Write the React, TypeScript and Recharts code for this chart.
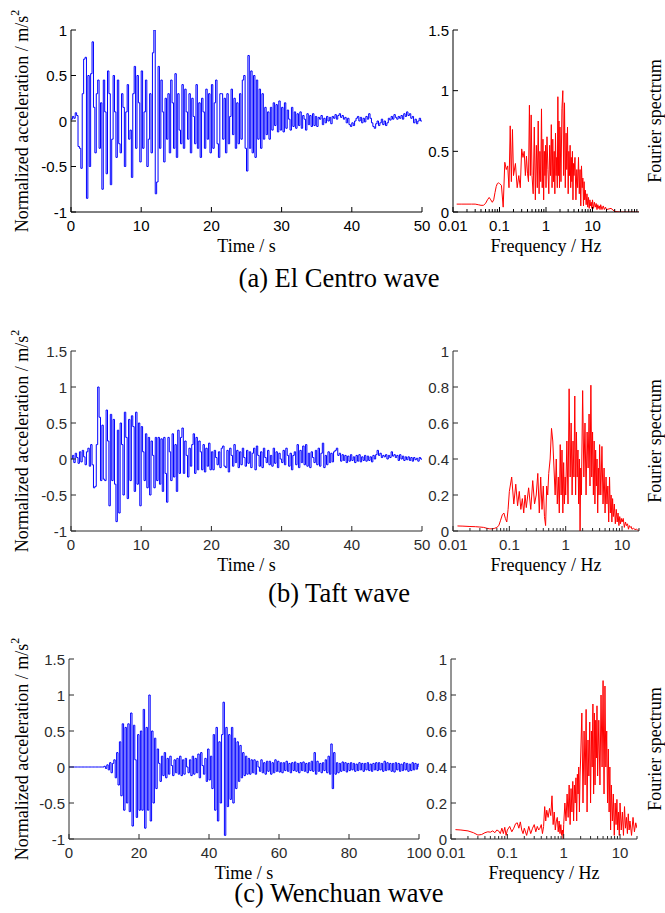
import React from "react";
import { LineChart, Line, XAxis, YAxis } from "recharts";

// ---- time histories (normalized acceleration, m/s^2) ----
const elCentroDt = 0.2;
const elCentroAcc = [
  0.02, 0.05, 0.03, 0.09, 0.06, -0.28, -0.3, -0.52, 0.3, 0.68,
  0.7, -0.85, 0.5, -0.5, 0.52, 0.87, 0.15, -0.35, 0.3, 0.45,
  -0.3, 0.2, -0.75, 0.45, 0.1, -0.58, 0.55, 0.3, -0.7, -0.2,
  0.5, 0.1, -0.4, 0.45, -0.25, -0.35, 0.3, 0.15, -0.5, 0.1,
  0.4, -0.2, -0.1, -0.62, 0.3, 0.6, -0.3, 0.5, 0.2, -0.45,
  0.55, -0.3, 0.1, 0.45, -0.5, -0.2, 0.3, -0.35, 0.75, 1.0,
  -0.8, -0.67, 0.6, -0.3, 0.45, 0.1, -0.45, 0.25, -0.2, 0.3,
  -0.35, 0.45, 0.2, -0.3, 0.52, -0.4, 0.3, -0.1, -0.25, 0.4,
  -0.3, 0.35, 0.1, -0.2, 0.3, -0.35, 0.25, 0.05, -0.25, 0.4,
  -0.3, 0.2, -0.4, 0.25, 0.1, -0.3, 0.35, -0.2, 0.3, -0.35,
  0.4, -0.3, 0.2, 0.45, -0.25, -0.4, 0.3, 0.3, -0.2, 0.25,
  -0.35, 0.3, -0.25, 0.05, 0.35, -0.15, 0.25, -0.3, 0.2, -0.25,
  0.3, -0.2, 0.45, 0.5, -0.3, -0.55, 0.72, -0.3, 0.55, -0.35,
  0.5, -0.4, 0.45, -0.2, 0.35, -0.3, 0.3, -0.2, 0.15, -0.15,
  0.1, -0.2, 0.15, -0.1, 0.2, -0.05, 0.18, -0.12, 0.22, -0.1,
  0.15, -0.12, 0.2, -0.08, 0.12, 0.02, -0.1, 0.15, -0.06, 0.1,
  -0.08, 0.08, -0.05, 0.1, -0.08, 0.06, 0.02, -0.1, 0.08, -0.04,
  0.06, -0.06, 0.08, -0.05, 0.05, -0.06, 0.04, 0.02, 0.06, -0.04,
  0.03, -0.02, 0.05, 0.0, 0.04, -0.03, 0.05, 0.03, 0.07, 0.02,
  0.06, 0.08, 0.04, 0.06, 0.02, 0.04, -0.02, 0.03, -0.04, -0.06,
  -0.02, -0.05, 0.0, 0.03, 0.05, 0.0, 0.04, -0.02, 0.03, -0.01,
  0.05, 0.02, 0.08, 0.03, -0.02, -0.06, -0.08, -0.03, 0.0, -0.05,
  -0.02, 0.02, -0.04, 0.0, -0.05, -0.02, 0.03, 0.01, 0.05, 0.02,
  0.07, 0.04, 0.02, 0.05, 0.03, 0.06, 0.02, 0.08, 0.05, 0.1,
  0.06, 0.08, 0.03, 0.05, -0.02, 0.02, -0.03, 0.0, 0.03, 0.0,
  0.0,
];

const taftDt = 0.2;
const taftAcc = [
  0.0, 0.05, -0.05, 0.08, 0.02, -0.06, 0.1, -0.04, 0.12, 0.03,
  -0.08, 0.1, 0.15, -0.1, 0.2, -0.08, -0.4, -0.38, 0.2, 1.0,
  0.58, -0.3, 0.47, -0.28, -0.3, 0.68, 0.25, -0.65, 0.62, -0.3,
  0.55, -0.35, -0.87, 0.4, -0.75, 0.5, 0.2, -0.5, 0.65, 0.3,
  -0.55, 0.55, -0.3, 0.6, 0.45, -0.45, 0.65, -0.35, 0.5, -0.65,
  0.45, 0.1, -0.3, 0.35, -0.4, 0.3, -0.5, 0.25, 0.05, -0.4,
  0.3, -0.3, 0.3, -0.35, 0.28, -0.45, 0.3, -0.2, -0.6, 0.3,
  0.1, -0.3, 0.35, -0.25, 0.2, -0.45, 0.4, -0.2, 0.3, 0.43,
  -0.2, 0.25, 0.05, -0.25, 0.15, -0.1, 0.2, 0.35, -0.2, 0.3,
  -0.15, 0.25, 0.1, -0.15, 0.2, -0.18, 0.15, -0.1, 0.22, -0.15,
  0.1, -0.15, 0.12, 0.02, -0.08, 0.1, -0.12, 0.15, 0.18, -0.1,
  -0.12, 0.12, -0.18, 0.15, 0.05, -0.1, 0.2, -0.05, 0.12, -0.12,
  0.1, -0.08, 0.15, 0.02, -0.1, 0.12, -0.06, 0.1, -0.12, 0.08,
  0.15, -0.15, 0.18, 0.05, -0.1, 0.1, -0.12, 0.15, 0.02, -0.05,
  0.12, -0.08, 0.05, -0.1, 0.15, -0.06, 0.1, -0.12, 0.08, 0.0,
  -0.05, 0.12, -0.08, 0.15, 0.05, -0.1, 0.08, -0.15, 0.05, 0.1,
  -0.08, 0.2, -0.12, 0.12, -0.05, 0.18, -0.08, 0.2, -0.1, 0.08,
  -0.12, 0.1, 0.02, -0.05, 0.12, -0.08, 0.15, -0.1, 0.08, 0.22,
  -0.12, 0.05, -0.08, 0.1, -0.05, 0.08, -0.04, 0.1, 0.12, 0.15,
  0.05, 0.08, -0.03, 0.06, -0.02, 0.05, -0.05, 0.04, -0.03, 0.06,
  -0.02, 0.03, -0.05, 0.05, -0.03, 0.06, -0.04, 0.03, -0.02, 0.05,
  -0.03, 0.04, -0.02, 0.03, -0.04, 0.05, 0.0, 0.06, 0.12, 0.05,
  0.08, 0.02, 0.05, 0.03, 0.06, 0.0, 0.05, 0.02, 0.1, 0.04,
  0.06, 0.02, 0.05, -0.02, 0.06, 0.0, 0.04, -0.02, 0.03, -0.01,
  0.03, -0.02, 0.02, -0.03, 0.02, -0.01, 0.01, -0.03, 0.02, 0.0,
  -0.01,
];

const wenchuanDt = 0.4;
const wenchuanAcc = [
  0, 0, 0, 0, 0, 0, 0, 0, 0, 0,
  0, 0, 0, 0, 0, 0, 0, 0, 0, 0,
  0, 0, 0, 0, 0, 0.01, -0.02, 0.03, -0.04, 0.06,
  -0.08, 0.05, 0.1, -0.15, 0.2, -0.25, 0.35, -0.4, 0.6, -0.6,
  0.55, -0.5, 0.6, -0.62, 0.75, -0.82, 0.58, 0.1, -0.7, 0.45,
  -0.6, 0.5, -0.6, 0.8, -0.85, 0.55, -0.6, 1.0, -0.75, 0.5,
  -0.5, 0.4, -0.3, 0.25, 0.05, -0.2, 0.15, -0.12, 0.2, -0.15,
  0.12, -0.1, 0.15, 0.02, -0.12, 0.1, -0.08, 0.12, -0.1, 0.15,
  -0.12, 0.1, -0.1, 0.12, 0.0, -0.08, 0.1, -0.12, 0.15, -0.1,
  0.12, -0.08, 0.18, -0.15, 0.2, 0.02, -0.1, 0.12, -0.2, 0.25,
  -0.18, 0.15, -0.3, 0.45, -0.6, 0.55, -0.75, 0.35, -0.5, 0.45,
  0.9, -0.95, 0.55, -0.55, 0.45, -0.45, 0.55, -0.5, 0.4, -0.3,
  0.35, -0.2, 0.3, -0.15, 0.2, -0.12, 0.15, -0.1, 0.12, -0.1,
  0.1, -0.08, 0.1, -0.1, 0.08, 0.0, -0.06, 0.1, -0.08, 0.06,
  -0.1, 0.08, -0.06, 0.08, -0.1, 0.06, -0.08, 0.1, -0.06, 0.08,
  -0.07, 0.06, -0.08, 0.06, -0.05, 0.08, -0.06, 0.05, -0.08, 0.06,
  -0.05, 0.07, -0.06, 0.05, -0.08, 0.06, -0.05, 0.07, -0.06, 0.05,
  -0.08, 0.06, -0.05, 0.08, -0.06, 0.2, -0.1, 0.08, -0.06, 0.05,
  -0.08, 0.06, -0.05, 0.1, -0.08, 0.15, -0.1, 0.32, -0.3, 0.2,
  -0.1, 0.06, -0.08, 0.05, -0.06, 0.07, -0.05, 0.06, -0.07, 0.05,
  -0.05, 0.06, -0.04, 0.05, -0.06, 0.04, -0.05, 0.06, -0.04, 0.05,
  -0.06, 0.05, -0.04, 0.06, -0.05, 0.04, -0.06, 0.05, -0.04, 0.06,
  -0.05, 0.06, -0.04, 0.05, -0.06, 0.08, -0.05, 0.06, -0.04, 0.05,
  -0.06, 0.05, -0.07, 0.06, -0.04, 0.05, -0.06, 0.04, -0.05, 0.06,
  -0.04, 0.05, -0.06, 0.04, -0.05, 0.06, -0.04, 0.05, -0.03, 0.04,
  0.0,
];

// ---- Fourier spectra ----
const freqHz = [
  0.012, 0.015, 0.02, 0.025, 0.03, 0.035, 0.04, 0.045, 0.05, 0.055, 0.06, 0.065, 0.07, 0.075, 0.08, 0.085, 0.09, 0.095, 0.1,
  0.11, 0.12, 0.13, 0.14, 0.15, 0.16, 0.17, 0.18, 0.19, 0.2,
  0.22, 0.24, 0.26, 0.28, 0.3, 0.32, 0.34, 0.36, 0.38, 0.4, 0.42, 0.44, 0.46, 0.48, 0.5,
  0.53, 0.56, 0.59, 0.62, 0.65, 0.68, 0.71, 0.74, 0.77, 0.8, 0.83, 0.86, 0.89, 0.92, 0.95, 0.98,
  1.0, 1.05, 1.1, 1.15, 1.2, 1.25, 1.3, 1.35, 1.4, 1.45, 1.5, 1.55, 1.6, 1.65, 1.7, 1.75, 1.8, 1.85, 1.9, 1.95,
  2.0, 2.1, 2.2, 2.3, 2.4, 2.5, 2.6, 2.7, 2.8, 2.9, 3.0, 3.1, 3.2, 3.3, 3.4, 3.5, 3.6, 3.7, 3.8, 3.9,
  4.0, 4.2, 4.4, 4.6, 4.8, 5.0, 5.2, 5.4, 5.6, 5.8, 6.0, 6.2, 6.4, 6.6, 6.8, 7.0, 7.3, 7.6, 7.9, 8.2, 8.5, 8.8, 9.1, 9.4, 9.7,
  10, 10.5, 11, 11.5, 12, 12.5, 13, 13.5, 14, 14.5, 15, 16, 17, 18, 19, 20,
];
const freqTailHz = [25, 30, 40, 60, 100];

const elCentroSpec = [
  0.065, 0.065, 0.065, 0.065, 0.065, 0.06, 0.055, 0.055, 0.07, 0.1, 0.12, 0.1, 0.08, 0.1, 0.16, 0.21, 0.235, 0.24, 0.235,
  0.22, 0.04, 0.41, 0.35, 0.38, 0.2, 0.71, 0.25, 0.68, 0.3,
  0.4, 0.2, 0.3, 0.2, 0.52, 0.45, 0.5, 0.3, 0.46, 0.32, 0.25, 0.88, 0.3, 0.8, 0.3,
  0.15, 0.7, 0.1, 0.55, 0.2, 0.75, 0.15, 0.5, 0.25, 0.85, 0.2, 0.6, 0.1, 0.5, 0.3, 0.55,
  0.2, 0.62, 0.35, 0.15, 0.55, 0.3, 0.72, 0.2, 0.6, 0.25, 0.5, 0.15, 0.65, 0.3, 0.45, 0.2, 0.95, 0.3, 0.75, 0.2,
  0.7, 0.25, 0.85, 1.0, 0.3, 0.9, 0.2, 0.65, 0.35, 0.7, 0.15, 0.5, 0.3, 0.55, 0.2, 0.45, 0.25, 0.5, 0.1, 0.4,
  0.3, 0.45, 0.1, 0.35, 0.2, 0.45, 0.15, 0.35, 0.05, 0.38, 0.2, 0.28, 0.05, 0.25, 0.1, 0.18, 0.06, 0.15, 0.04, 0.12, 0.03, 0.1, 0.05, 0.08, 0.03,
  0.1, 0.03, 0.08, 0.04, 0.07, 0.02, 0.06, 0.03, 0.05, 0.02, 0.06, 0.02, 0.05, 0.02, 0.04, 0.02,
  0.03, 0.005, 0, 0, 0,
];

const taftSpec = [
  0.028, 0.027, 0.025, 0.024, 0.022, 0.02, 0.015, 0.012, 0.012, 0.015, 0.02, 0.03, 0.06, 0.09, 0.1, 0.07, 0.05, 0.12, 0.22,
  0.3, 0.15, 0.26, 0.14, 0.22, 0.12, 0.18, 0.1, 0.2, 0.13,
  0.24, 0.12, 0.28, 0.15, 0.2, 0.32, 0.1, 0.3, 0.12, 0.25, 0.08, 0.03, 0.25, 0.2, 0.32,
  0.4, 0.57, 0.5, 0.35, 0.2, 0.4, 0.15, 0.3, 0.1, 0.48, 0.2, 0.45, 0.1, 0.38, 0.15, 0.3,
  0.2, 0.5, 0.15, 0.79, 0.3, 0.6, 0.2, 0.5, 0.3, 0.75, 0.2, 0.55, 0.3, 0.45, 0.15, 0.4, 0.0, 0.35, 0.2, 0.5,
  0.78, 0.3, 0.6, 0.2, 0.55, 0.35, 0.65, 0.25, 0.81, 0.3, 0.55, 0.2, 0.5, 0.15, 0.45, 0.25, 0.4, 0.1, 0.35, 0.2,
  0.48, 0.2, 0.47, 0.15, 0.35, 0.1, 0.3, 0.15, 0.25, 0.05, 0.3, 0.1, 0.2, 0.05, 0.18, 0.08, 0.15, 0.04, 0.12, 0.05, 0.1, 0.03, 0.08, 0.04, 0.07,
  0.05, 0.07, 0.02, 0.05, 0.03, 0.04, 0.01, 0.03, 0.02, 0.025, 0.01, 0.015, 0.008, 0.01, 0.005, 0.004,
];

const wenchuanSpec = [
  0.052, 0.05, 0.045, 0.035, 0.022, 0.025, 0.035, 0.04, 0.038, 0.045, 0.035, 0.05, 0.045, 0.03, 0.06, 0.03, 0.065, 0.02, 0.05,
  0.07, 0.04, 0.06, 0.085, 0.09, 0.06, 0.095, 0.05, 0.03, 0.06,
  0.02, 0.07, 0.03, 0.06, 0.08, 0.04, 0.07, 0.05, 0.06, 0.08, 0.03, 0.07, 0.18, 0.1, 0.16,
  0.12, 0.17, 0.13, 0.24, 0.08, 0.15, 0.05, 0.1, 0.12, 0.04, 0.1, 0.03, 0.08, 0.02, 0.05, 0.0,
  0.08, 0.2, 0.1, 0.25, 0.12, 0.3, 0.08, 0.28, 0.15, 0.32, 0.1, 0.3, 0.2, 0.34, 0.1, 0.36, 0.25, 0.4, 0.15, 0.35,
  0.45, 0.7, 0.2, 0.6, 0.3, 0.72, 0.15, 0.55, 0.35, 0.65, 0.2, 0.6, 0.4, 0.75, 0.25, 0.7, 0.3, 0.66, 0.45, 0.74,
  0.35, 0.66, 0.3, 0.8, 0.4, 0.88, 0.25, 0.85, 0.4, 0.6, 0.2, 0.5, 0.15, 0.4, 0.05, 0.3, 0.1, 0.25, 0.02, 0.2, 0.08, 0.22, 0.05, 0.15, 0.02,
  0.2, 0.05, 0.15, 0.02, 0.18, 0.06, 0.12, 0.03, 0.14, 0.05, 0.1, 0.02, 0.12, 0.04, 0.09, 0.06,
];

// ---- ticks ----
const time50Ticks = [0, 10, 20, 30, 40, 50];
const time100Ticks = [0, 20, 40, 60, 80, 100];
const accTicksA = [-1, -0.5, 0, 0.5, 1];
const accTicksB = [-1, -0.5, 0, 0.5, 1, 1.5];
const specTicksA = [0, 0.5, 1, 1.5];
const specTicksB = [0, 0.2, 0.4, 0.6, 0.8, 1];
const logMajor = [0.01, 0.1, 1, 10];
const logMinor = [
  0.02, 0.03, 0.04, 0.05, 0.06, 0.07, 0.08, 0.09,
  0.2, 0.3, 0.4, 0.5, 0.6, 0.7, 0.8, 0.9,
  2, 3, 4, 5, 6, 7, 8, 9,
  20, 30, 40, 50, 60, 70, 80, 90,
];

const SANS = "'Liberation Sans', Arial, sans-serif";
const SERIF = "'Liberation Serif', 'Times New Roman', serif";
const PL = 48, PR = 18, PT = 14, PB = 28;

type Pt = { x: number; y: number };

const series = (vals: number[], dt: number): Pt[] => vals.map((v, i) => ({ x: i * dt, y: v }));
const spectrum = (f: number[], vals: number[]): Pt[] => f.map((x, i) => ({ x, y: vals[i] }));

// inward MATLAB-style ticks, drawn by hand
// eslint-disable-next-line @typescript-eslint/no-explicit-any
const xTick = (majors: number[], frame: string, side: "b" | "t", hiX: number) => (p: any) => {
  const v = p.payload.value;
  const major = majors.includes(v);
  if (v > hiX) return <g />;
  const len = major ? 5 : 3;
  const dir = side === "b" ? -1 : 1;
  return (
    <g>
      <line x1={p.x} x2={p.x} y1={p.y} y2={p.y + dir * len} stroke={frame} strokeWidth={1} />
      {side === "b" && major && (
        <text x={p.x} y={p.y + 13} textAnchor="middle" dominantBaseline="central"
          fontFamily={SANS} fontSize={15} fill={frame}>
          {String(v)}
        </text>
      )}
    </g>
  );
};

// eslint-disable-next-line @typescript-eslint/no-explicit-any
const yTick = (frame: string, side: "l" | "r") => (p: any) => {
  const v = p.payload.value;
  const dir = side === "l" ? 1 : -1;
  return (
    <g>
      <line x1={p.x} x2={p.x + dir * 5} y1={p.y} y2={p.y} stroke={frame} strokeWidth={1} />
      {side === "l" && (
        <text x={p.x - 4} y={p.y} textAnchor="end" dominantBaseline="central"
          fontFamily={SANS} fontSize={15} fill={frame}>
          {String(v)}
        </text>
      )}
    </g>
  );
};

interface PanelProps {
  box: { x: number; y: number; w: number; h: number };
  data: Pt[];
  xDomain: [number, number];
  xTicks: number[];
  xMinor?: number[];
  log?: boolean;
  yDomain: [number, number];
  yTicks: number[];
  stroke: string;
  frame: string;
  step?: boolean;
}

function Panel({ box, data, xDomain, xTicks, xMinor = [], log = false, yDomain, yTicks, stroke, frame, step = false }: PanelProps) {
  const allX = [...xTicks, ...xMinor].filter((t) => t <= xDomain[1]);
  const common = {
    dataKey: "x",
    type: "number" as const,
    scale: log ? ("log" as const) : ("linear" as const),
    domain: xDomain,
    ticks: allX,
    interval: 0 as const,
    tickSize: 0,
    tickMargin: 0,
    tickLine: false,
    allowDataOverflow: true,
    axisLine: { stroke: frame },
  };
  const yCommon = {
    type: "number" as const,
    domain: yDomain,
    ticks: yTicks,
    interval: 0 as const,
    tickSize: 0,
    tickMargin: 0,
    tickLine: false,
    allowDataOverflow: true,
    axisLine: { stroke: frame },
  };
  return (
    <div style={{ position: "absolute", left: box.x - PL, top: box.y - PT }}>
      <LineChart
        width={box.w + PL + PR}
        height={box.h + PT + PB}
        data={data}
        margin={{ top: PT, right: PR, bottom: 0, left: 0 }}
      >
        <XAxis xAxisId="b" {...common} height={PB} tick={xTick(xTicks, frame, "b", xDomain[1])} />
        <XAxis xAxisId="t" orientation="top" {...common} height={0} tick={xTick(xTicks, frame, "t", xDomain[1])} />
        <YAxis yAxisId="l" {...yCommon} width={PL} tick={yTick(frame, "l")} />
        <YAxis yAxisId="r" orientation="right" {...yCommon} width={0} tick={yTick(frame, "r")} />
        <Line
          xAxisId="b"
          yAxisId="l"
          dataKey="y"
          type={step ? "stepAfter" : "linear"}
          stroke={stroke}
          strokeWidth={1}
          dot={false}
          activeDot={false}
          isAnimationActive={false}
        />
      </LineChart>
    </div>
  );
}

const BLUE = "#0000ff";
const RED = "#ff0000";

const rows = [
  {
    left: { x: 71, y: 30, w: 351, h: 182 },
    right: { x: 453, y: 30, w: 186, h: 182 },
    acc: series(elCentroAcc, elCentroDt),
    spec: spectrum([...freqHz, ...freqTailHz], elCentroSpec),
    tDomain: [0, 50] as [number, number],
    tTicks: time50Ticks,
    accDomain: [-1, 1] as [number, number],
    accTicks: accTicksA,
    fDomain: [0.01, 100] as [number, number],
    sDomain: [0, 1.5] as [number, number],
    sTicks: specTicksA,
    frame: "#000",
    caption: "(a) El Centro wave",
    capY: 278,
  },
  {
    left: { x: 71, y: 351, w: 351, h: 180 },
    right: { x: 453, y: 351, w: 186, h: 180 },
    acc: series(taftAcc, taftDt),
    spec: spectrum(freqHz, taftSpec),
    tDomain: [0, 50] as [number, number],
    tTicks: time50Ticks,
    accDomain: [-1, 1.5] as [number, number],
    accTicks: accTicksB,
    fDomain: [0.01, 20] as [number, number],
    sDomain: [0, 1] as [number, number],
    sTicks: specTicksB,
    frame: "#2b2b2b",
    caption: "(b) Taft wave",
    capY: 593,
  },
  {
    left: { x: 69, y: 659, w: 350, h: 180 },
    right: { x: 451, y: 659, w: 186, h: 180 },
    acc: series(wenchuanAcc, wenchuanDt),
    spec: spectrum(freqHz, wenchuanSpec),
    tDomain: [0, 100] as [number, number],
    tTicks: time100Ticks,
    accDomain: [-1, 1.5] as [number, number],
    accTicks: accTicksB,
    fDomain: [0.01, 20] as [number, number],
    sDomain: [0, 1] as [number, number],
    sTicks: specTicksB,
    frame: "#2b2b2b",
    caption: "(c) Wenchuan wave",
    capY: 893,
  },
];

export default function App() {
  return (
    <div style={{ position: "absolute", left: 0, top: 0, width: 665, height: 913, background: "#fff", overflow: "hidden" }}>
      {rows.map((r, i) => (
        <React.Fragment key={i}>
          <Panel box={r.left} data={r.acc} xDomain={r.tDomain} xTicks={r.tTicks}
            yDomain={r.accDomain} yTicks={r.accTicks} stroke={BLUE} frame={r.frame} step />
          <Panel box={r.right} data={r.spec} xDomain={r.fDomain} xTicks={logMajor} xMinor={logMinor} log
            yDomain={r.sDomain} yTicks={r.sTicks} stroke={RED} frame={r.frame} />
        </React.Fragment>
      ))}
      <svg width={665} height={913} style={{ position: "absolute", left: 0, top: 0, pointerEvents: "none" }}>
        {rows.map((r, i) => {
          const cy = r.left.y + r.left.h / 2;
          const ty = r.left.y + r.left.h + 34;
          return (
            <g key={i} fontFamily={SERIF} fontSize={18} fill="#000">
              <text x={22} y={cy} transform={`rotate(-90 22 ${cy})`} textAnchor="middle" dominantBaseline="central">
                Normalized acceleration / m/s<tspan dy={-7} fontSize={12}>2</tspan>
              </text>
              <text x={655} y={cy} transform={`rotate(-90 655 ${cy})`} textAnchor="middle" dominantBaseline="central">
                Fourier spectrum
              </text>
              <text x={r.left.x + r.left.w / 2} y={ty} textAnchor="middle" dominantBaseline="central">Time / s</text>
              <text x={r.right.x + r.right.w / 2} y={ty} textAnchor="middle" dominantBaseline="central">Frequency / Hz</text>
              <text x={339} y={r.capY} textAnchor="middle" dominantBaseline="central" fontSize={26.5}>{r.caption}</text>
            </g>
          );
        })}
      </svg>
    </div>
  );
}
